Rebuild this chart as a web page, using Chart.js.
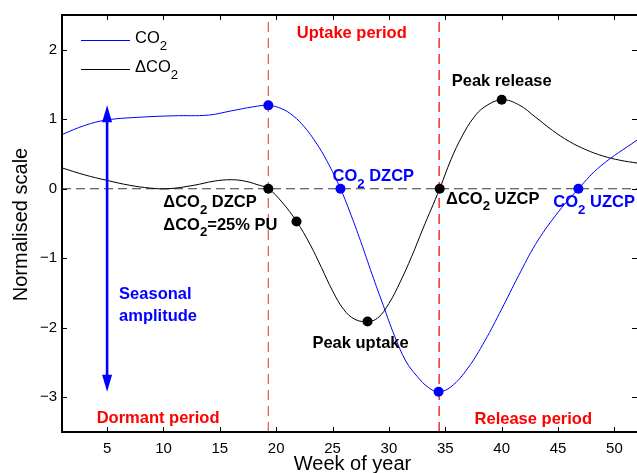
<!DOCTYPE html>
<html>
<head>
<meta charset="utf-8">
<script src="https://cdn.jsdelivr.net/npm/chart.js@4.4.1/dist/chart.umd.min.js"></script>
<style>
  html, body { margin: 0; padding: 0; background: #fff; }
  #wrap { width: 637px; height: 473px; position: relative; }
</style>
</head>
<body>
<div id="wrap"><canvas id="c" width="637" height="473"></canvas></div>
<script>
const FONT = '"Liberation Sans", Arial, Helvetica, sans-serif';
const BLUE = '#0000ff';
const RED = '#ff0000';

// Axis ranges and tick values
const weekRange = [1, 52];
const scaleRange = [-3.5, 2.5];
const xTicks = [5, 10, 15, 20, 25, 30, 35, 40, 45, 50];
const yTicks = [-3, -2, -1, 0, 1, 2];

// Normalised CO2 concentration by week of year
const weeksCO2 = [1, 3, 5, 8, 11, 14, 16, 18, 19.3, 20.5, 21.5, 22.5, 23.5, 24.5, 25.7, 26.5, 27.5, 28.5, 29.5, 30.5, 31.5, 32.5, 33.5, 34.4, 35.5, 37, 38.5, 40, 41.5, 43, 44.8, 46.8, 48.8, 52];
const co2 = [0.78, 0.91, 0.99, 1.03, 1.05, 1.06, 1.12, 1.18, 1.20, 1.15, 1.05, 0.89, 0.67, 0.40, 0, -0.32, -0.76, -1.23, -1.68, -2.12, -2.48, -2.70, -2.86, -2.92, -2.85, -2.58, -2.19, -1.73, -1.25, -0.80, -0.38, 0, 0.33, 0.70];

// Normalised week-on-week change in CO2
const weeksDelta = [1, 3, 5, 7, 8.8, 10.4, 12.7, 14.5, 16, 17.2, 18.3, 19.3, 20.5, 21.8, 23, 24, 25, 26, 27, 28.1, 29, 30, 31, 32, 33, 34.5, 35.5, 36.5, 37.5, 38.5, 40, 41.5, 43, 44.5, 46, 47.5, 49, 50.5, 52];
const deltaCO2 = [0.30, 0.20, 0.12, 0.05, 0.01, 0.0, 0.05, 0.11, 0.13, 0.11, 0.06, 0, -0.19, -0.47, -0.80, -1.13, -1.47, -1.74, -1.88, -1.91, -1.86, -1.65, -1.34, -0.98, -0.58, 0, 0.42, 0.76, 1.02, 1.18, 1.28, 1.21, 1.03, 0.84, 0.68, 0.56, 0.47, 0.41, 0.37];

// Key points (weeks) marked on each curve
const co2MarkWeeks = [19.3, 25.7, 34.4, 46.8];
const deltaMarkWeeks = [19.3, 21.8, 28.1, 34.5, 40];

// Start of uptake period and start of release period
const periodBounds = [19.3, 34.45];
// Week at which the seasonal amplitude arrow is drawn
const amplitudeWeek = 5;

const toPoints = (weeks, vals) => weeks.map((w, i) => ({ x: w, y: vals[i] }));
const pick = (weeks, vals, sel) => sel.map(w => ({ x: w, y: vals[weeks.indexOf(w)] }));

// Text annotations, anchored at a data point with a pixel offset ("_2" = subscript 2)
const notes = [
  { text: 'Uptake period',  at: [26.7, scaleRange[1]], dx: 0,    dy: 23,   align: 'center', color: RED },
  { text: 'Dormant period', at: [9.52, scaleRange[0]], dx: 0,    dy: -8.7, align: 'center', color: RED },
  { text: 'Release period', at: [42.8, scaleRange[0]], dx: 0,    dy: -8.5, align: 'center', color: RED },
  { text: 'Peak release',   at: [40, 1.28],            dx: 0,    dy: -14,  align: 'center', color: '#000' },
  { text: 'Peak uptake',    at: [28.1, -1.91],         dx: -7,   dy: 26.6, align: 'center', color: '#000' },
  { text: 'CO_2 DZCP',      at: [25.7, 0],             dx: -8,   dy: -7.5, align: 'left',   color: BLUE },
  { text: '\u0394CO_2 DZCP', at: [19.3, 0],            dx: -105, dy: 18.2, align: 'left',   color: '#000' },
  { text: '\u0394CO_2=25% PU', at: [19.3, 0],          dx: -105, dy: 40.8, align: 'left',   color: '#000' },
  { text: '\u0394CO_2 UZCP', at: [34.5, 0],            dx: 6.4,  dy: 14.8, align: 'left',   color: '#000' },
  { text: 'CO_2 UZCP',      at: [46.8, 0],             dx: -25,  dy: 18,   align: 'left',   color: BLUE },
  { text: 'Seasonal',       at: [amplitudeWeek, 0],    dx: 12,   dy: 110.5, align: 'left',  color: BLUE },
  { text: 'amplitude',      at: [amplitudeWeek, 0],    dx: 12,   dy: 131.8, align: 'left',  color: BLUE }
];

const legendItems = [
  { text: 'CO_2', color: BLUE },
  { text: '\u0394CO_2', color: '#000' }
];

// Draws text where "_d" renders the digit as a subscript
function drawRich(ctx, text, x, y, size, weight, color, align) {
  const parts = text.split(/_(\d)/);
  const mainFont = `${weight} ${size}px ${FONT}`;
  const subFont = `${weight} ${size * 0.8}px ${FONT}`;
  let total = 0;
  const widths = parts.map((p, i) => {
    ctx.font = i % 2 ? subFont : mainFont;
    const w = ctx.measureText(p).width;
    total += w;
    return w;
  });
  let cx = align === 'center' ? x - total / 2 : align === 'right' ? x - total : x;
  ctx.save();
  ctx.fillStyle = color;
  ctx.textAlign = 'left';
  ctx.textBaseline = 'alphabetic';
  parts.forEach((p, i) => {
    ctx.font = i % 2 ? subFont : mainFont;
    ctx.fillText(p, cx, i % 2 ? y + size * 0.42 : y);
    cx += widths[i];
  });
  ctx.restore();
}

const decorations = {
  id: 'decorations',
  afterDatasetsDraw(chart) {
    const { ctx, chartArea: a, scales: { x, y } } = chart;

    // Seasonal amplitude double arrow spanning the CO2 range
    const ax = x.getPixelForValue(amplitudeWeek);
    const yTop = y.getPixelForValue(Math.max(...co2));
    const yBot = y.getPixelForValue(Math.min(...co2));
    const headLen = 17, headHalf = 5;
    ctx.save();
    ctx.strokeStyle = BLUE;
    ctx.fillStyle = BLUE;
    ctx.lineWidth = 2.6;
    ctx.beginPath();
    ctx.moveTo(ax, yTop + headLen - 2);
    ctx.lineTo(ax, yBot - headLen + 2);
    ctx.stroke();
    ctx.beginPath();
    ctx.moveTo(ax, yTop);
    ctx.lineTo(ax - headHalf, yTop + headLen);
    ctx.lineTo(ax + headHalf, yTop + headLen);
    ctx.closePath();
    ctx.fill();
    ctx.beginPath();
    ctx.moveTo(ax, yBot);
    ctx.lineTo(ax - headHalf, yBot - headLen);
    ctx.lineTo(ax + headHalf, yBot - headLen);
    ctx.closePath();
    ctx.fill();
    ctx.restore();

    // Frame with inward tick marks on all four sides
    ctx.save();
    ctx.strokeStyle = '#000';
    ctx.lineWidth = 1;
    ctx.beginPath();
    x.ticks.forEach(t => {
      const px = Math.round(x.getPixelForValue(t.value)) + 0.5;
      ctx.moveTo(px, a.bottom); ctx.lineTo(px, a.bottom - 5);
      ctx.moveTo(px, a.top); ctx.lineTo(px, a.top + 5);
    });
    y.ticks.forEach(t => {
      const py = Math.round(y.getPixelForValue(t.value)) + 0.5;
      ctx.moveTo(a.left, py); ctx.lineTo(a.left + 5, py);
      ctx.moveTo(a.right, py); ctx.lineTo(a.right - 5, py);
    });
    ctx.stroke();
    ctx.lineWidth = 2;
    ctx.strokeRect(a.left, a.top, a.right - a.left + 1, a.bottom - a.top);
    ctx.restore();

    // Annotations
    notes.forEach(n => {
      const px = x.getPixelForValue(n.at[0]) + n.dx;
      const py = y.getPixelForValue(n.at[1]) + n.dy;
      drawRich(ctx, n.text, px, py, 16.5, 'bold', n.color, n.align);
    });

    // Legend in the upper left corner
    legendItems.forEach((item, i) => {
      const ly = a.top + 25.5 + i * 29;
      ctx.save();
      ctx.strokeStyle = item.color;
      ctx.lineWidth = 1;
      ctx.beginPath();
      ctx.moveTo(a.left + 19, ly);
      ctx.lineTo(a.left + 68, ly);
      ctx.stroke();
      ctx.restore();
      drawRich(ctx, item.text, a.left + 73, ly + 2.4, 16.5, 'normal', '#000', 'left');
    });

    // Axis titles
    ctx.save();
    ctx.fillStyle = '#000';
    ctx.font = `20px ${FONT}`;
    ctx.textAlign = 'center';
    ctx.textBaseline = 'alphabetic';
    ctx.fillText('Week of year', (a.left + a.right) / 2 + 3, 470);
    ctx.translate(27, (a.top + a.bottom) / 2 + 1);
    ctx.rotate(-Math.PI / 2);
    ctx.fillText('Normalised scale', 0, 0);
    ctx.restore();
  }
};

const refLine = (data, color, dash, width) => ({
  data, borderColor: color, borderDash: dash, borderWidth: width,
  pointRadius: 0, fill: false, tension: 0, order: 3
});

new Chart(document.getElementById('c'), {
  type: 'line',
  data: {
    datasets: [
      refLine([{ x: weekRange[0], y: 0 }, { x: weekRange[1], y: 0 }], '#3a3a3a', [9, 5], 1),
      refLine([{ x: periodBounds[0], y: scaleRange[0] }, { x: periodBounds[0], y: scaleRange[1] }], '#ff5a5a', [10, 6], 1.3),
      refLine([{ x: periodBounds[1], y: scaleRange[0] }, { x: periodBounds[1], y: scaleRange[1] }], '#e3141a', [10, 6], 1.3),
      {
        label: 'CO2', data: toPoints(weeksCO2, co2), borderColor: BLUE, borderWidth: 1,
        tension: 0.4, pointRadius: 0, fill: false, order: 2
      },
      {
        label: 'dCO2', data: toPoints(weeksDelta, deltaCO2), borderColor: '#000', borderWidth: 1,
        tension: 0.4, pointRadius: 0, fill: false, order: 2
      },
      {
        data: pick(weeksCO2, co2, co2MarkWeeks), showLine: false, pointRadius: 5,
        pointBackgroundColor: BLUE, pointBorderColor: BLUE, pointBorderWidth: 0, order: 0
      },
      {
        data: pick(weeksDelta, deltaCO2, deltaMarkWeeks), showLine: false, pointRadius: 5,
        pointBackgroundColor: '#000', pointBorderColor: '#000', pointBorderWidth: 0, order: 0
      }
    ]
  },
  options: {
    responsive: false,
    animation: false,
    events: [],
    layout: { autoPadding: false, padding: { top: 15, right: 0, left: 0, bottom: 0 } },
    plugins: { legend: { display: false }, tooltip: { enabled: false } },
    scales: {
      x: {
        type: 'linear', min: weekRange[0], max: weekRange[1],
        grid: { display: false, drawTicks: false },
        border: { display: false },
        afterBuildTicks: s => { s.ticks = xTicks.map(v => ({ value: v })); },
        afterFit: s => { s.height = 41; s.paddingLeft = 0; s.paddingRight = 0; },
        ticks: { color: '#000', padding: 8, font: { family: FONT, size: 15 }, maxRotation: 0 }
      },
      y: {
        type: 'linear', min: scaleRange[0], max: scaleRange[1],
        grid: { display: false, drawTicks: false },
        border: { display: false },
        afterBuildTicks: s => { s.ticks = yTicks.map(v => ({ value: v })); },
        afterFit: s => { s.width = 62; s.paddingTop = 0; s.paddingBottom = 0; },
        ticks: {
          color: '#000', padding: 5, font: { family: FONT, size: 15 },
          callback: v => (v < 0 ? '\u2212' + Math.abs(v) : String(v))
        }
      }
    }
  },
  plugins: [decorations]
});
</script>
</body>
</html>
